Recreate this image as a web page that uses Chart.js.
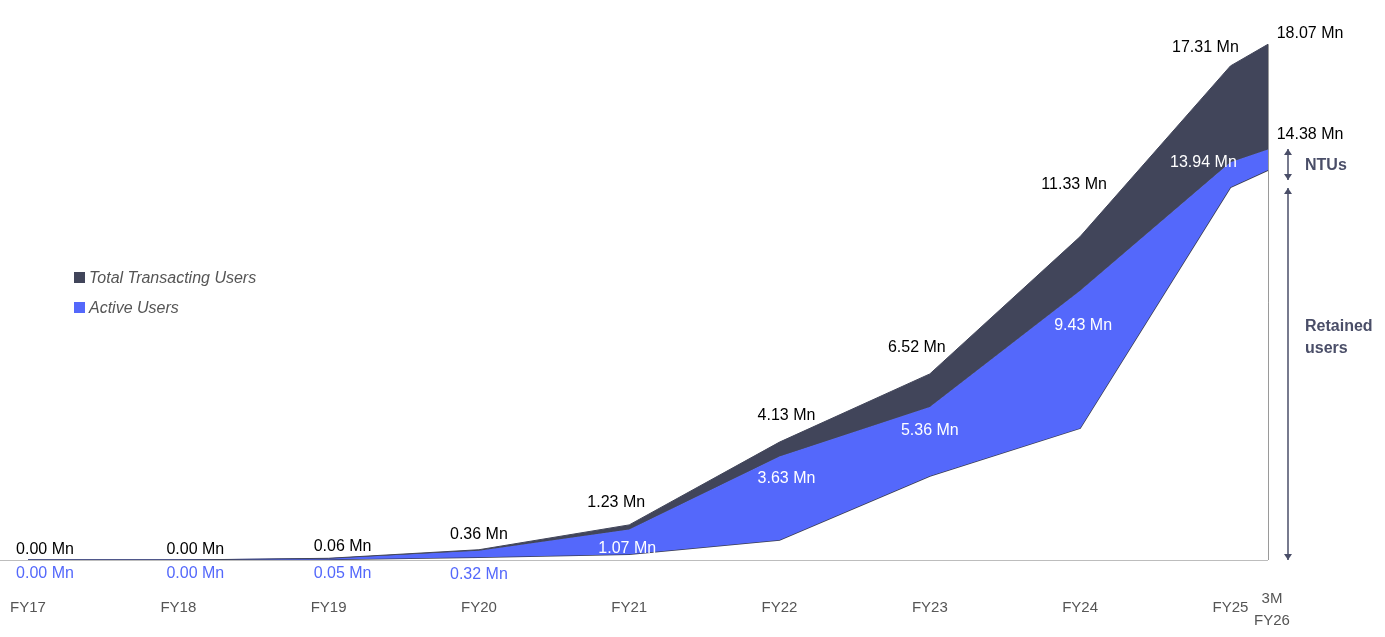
<!DOCTYPE html>
<html>
<head>
<meta charset="utf-8">
<script src="https://cdn.jsdelivr.net/npm/chart.js@4"></script>
<style>
  html, body { margin: 0; padding: 0; background: #fff; }
  #wrap { width: 1385px; height: 637px; }
</style>
</head>
<body>
<div id="wrap"><canvas id="myChart" width="1385" height="637"></canvas></div>
<script>
const categories = ['FY17', 'FY18', 'FY19', 'FY20', 'FY21', 'FY22', 'FY23', 'FY24', 'FY25', '3M FY26'];
const xPos = [0, 1, 2, 3, 4, 5, 6, 7, 8, 8.25];
const totalUsers = [0.00, 0.00, 0.06, 0.36, 1.23, 4.13, 6.52, 11.33, 17.31, 18.07];
const activeUsers = [0.00, 0.00, 0.05, 0.32, 1.07, 3.63, 5.36, 9.43, 13.94, 14.38];
const retainedEdge = [0.00, 0.00, 0.02, 0.10, 0.20, 0.70, 2.94, 4.62, 13.06, 13.66];

const DARK = '#41455a';
const BLUE = '#5468fb';

const pts = arr => arr.map((v, i) => ({ x: xPos[i], y: v }));

// label offsets in px relative to the data point
const totalOff = [[17, -10], [17, -10], [14, -12], [0, -15], [-13, -22], [7, -27], [-13, -26], [-6, -52], [-25, -18], [42, -11]];
const activeOff = [[17, 14], [17, 14], [14, 14], [0, 15], [-2, 19], [7, 22], [0, 24], [3, 35], [-27, 0], [42, -15]];

const labelPlugin = {
  id: 'labels',
  afterDatasetsDraw(chart) {
    const ctx = chart.ctx;
    const xs = chart.scales.x, ys = chart.scales.y;
    const y0 = ys.getPixelForValue(0);
    ctx.save();
    // baseline
    ctx.strokeStyle = '#bdbdbd';
    ctx.lineWidth = 1;
    ctx.beginPath(); ctx.moveTo(0, y0 + 0.5); ctx.lineTo(xs.getPixelForValue(8.25), y0 + 0.5); ctx.stroke();
    // vertical line at last point
    const xl = xs.getPixelForValue(8.25);
    ctx.strokeStyle = '#9a9a9a';
    ctx.beginPath(); ctx.moveTo(xl + 0.5, ys.getPixelForValue(18.07)); ctx.lineTo(xl + 0.5, y0); ctx.stroke();

    ctx.font = '16px "Liberation Sans", Arial, sans-serif';
    ctx.textAlign = 'center';
    ctx.textBaseline = 'middle';
    for (let i = 0; i < categories.length; i++) {
      const px = xs.getPixelForValue(xPos[i]);
      ctx.fillStyle = '#000';
      ctx.fillText(totalUsers[i].toFixed(2) + ' Mn', px + totalOff[i][0], ys.getPixelForValue(totalUsers[i]) + totalOff[i][1]);
      if (i < 4) ctx.fillStyle = BLUE;
      else if (i === 9) ctx.fillStyle = '#000';
      else ctx.fillStyle = '#fff';
      const ay = i < 4 ? y0 + activeOff[i][1] : ys.getPixelForValue(activeUsers[i]) + activeOff[i][1];
      ctx.fillText(activeUsers[i].toFixed(2) + ' Mn', px + activeOff[i][0], ay);
    }
    // x labels
    ctx.fillStyle = '#555';
    ctx.font = '15px "Liberation Sans", Arial, sans-serif';
    for (let i = 0; i < categories.length; i++) {
      const px = xs.getPixelForValue(xPos[i]);
      if (i === 9) {
        ctx.fillText('3M', px + 4, 599);
        ctx.fillText('FY26', px + 4, 621);
      } else {
        ctx.fillText(categories[i], px, 608);
      }
    }
    // arrows on the right
    const ax = xl + 20;
    const arrow = (ya, yb) => {
      ctx.strokeStyle = '#4a4e68'; ctx.fillStyle = '#4a4e68'; ctx.lineWidth = 1.5;
      ctx.beginPath(); ctx.moveTo(ax, ya); ctx.lineTo(ax, yb); ctx.stroke();
      [[ya, 1], [yb, -1]].forEach(([y, d]) => {
        ctx.beginPath(); ctx.moveTo(ax, y); ctx.lineTo(ax - 4, y + 6 * d); ctx.lineTo(ax + 4, y + 6 * d); ctx.closePath(); ctx.fill();
      });
    };
    arrow(149, 180);
    arrow(188, 560);
    ctx.fillStyle = '#4a4e68';
    ctx.font = 'bold 16px "Liberation Sans", Arial, sans-serif';
    ctx.textAlign = 'left';
    ctx.fillText('NTUs', 1305, 166);
    ctx.fillText('Retained', 1305, 327);
    ctx.fillText('users', 1305, 349);
    // legend
    ctx.font = 'italic 16px "Liberation Sans", Arial, sans-serif';
    ctx.fillStyle = '#555';
    ctx.fillStyle = DARK; ctx.fillRect(74, 272, 11, 11);
    ctx.fillStyle = BLUE; ctx.fillRect(74, 302, 11, 11);
    ctx.fillStyle = '#555';
    ctx.fillText('Total Transacting Users', 89, 279);
    ctx.fillText('Active Users', 89, 309);
    ctx.restore();
  }
};

function drawChart() {
  const ctx = document.getElementById('myChart').getContext('2d');
  new Chart(ctx, {
    type: 'line',
    data: {
      datasets: [
        { data: pts(totalUsers), borderColor: DARK, backgroundColor: DARK, borderWidth: 1, pointRadius: 0, fill: '+1', tension: 0 },
        { data: pts(activeUsers), borderColor: BLUE, backgroundColor: BLUE, borderWidth: 1, pointRadius: 0, fill: '+1', tension: 0 },
        { data: pts(retainedEdge), borderColor: '#3a3d50', backgroundColor: 'transparent', borderWidth: 1.5, pointRadius: 0, fill: false, tension: 0 }
      ]
    },
    options: {
      responsive: false,
      animation: false,
      layout: { padding: { left: 28, right: 117, top: 12, bottom: 77 } },
      scales: {
        x: { type: 'linear', min: 0, max: 8.25, display: false },
        y: { min: 0, max: 19.2, display: false }
      },
      plugins: { legend: { display: false }, tooltip: { enabled: false } }
    },
    plugins: [labelPlugin]
  });
}
drawChart();
</script>
</body>
</html>
